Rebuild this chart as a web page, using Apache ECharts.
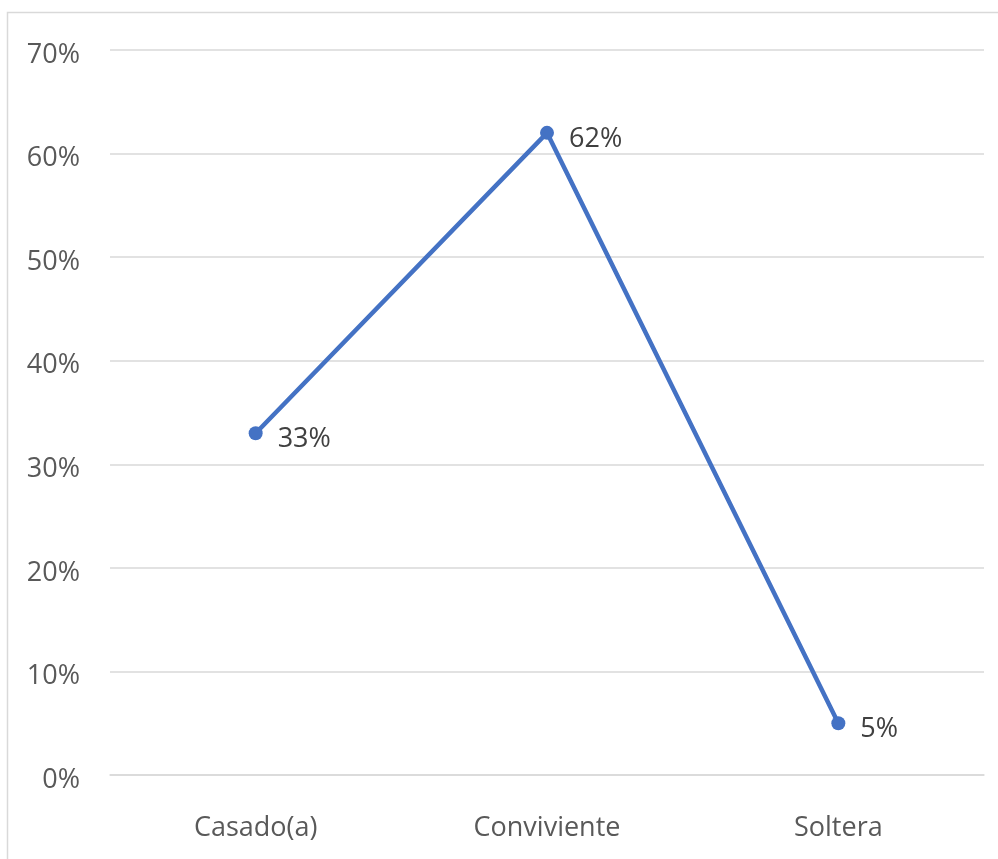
<!DOCTYPE html>
<html>
<head>
<meta charset="utf-8">
<script src="https://cdn.jsdelivr.net/npm/echarts@6/dist/echarts.min.js"></script>
<style>
  html, body { margin: 0; padding: 0; background: #fff; }
  #chart { width: 998px; height: 859px; }
</style>
</head>
<body>
<div id="chart"></div>
<script>
// Estado civil: distribución porcentual
const categories = ['Casado(a)', 'Conviviente', 'Soltera'];
const values = [33, 62, 5];
const yTicks = [0, 10, 20, 30, 40, 50, 60, 70];

const font = '"Open Sans", "Liberation Sans", sans-serif';
const chart = echarts.init(document.getElementById('chart'), null, { renderer: 'canvas' });

chart.setOption({
  backgroundColor: '#ffffff',
  animation: false,
  graphic: [{
    type: 'rect',
    shape: { x: 7.5, y: 12.5, width: 1000, height: 900 },
    style: { fill: 'none', stroke: '#d9d9d9', lineWidth: 1.5 },
    silent: true
  }],
  grid: { left: 110, right: 14, top: 50, bottom: 84, containLabel: false },
  xAxis: {
    type: 'category',
    data: categories,
    boundaryGap: true,
    axisLine: { show: true, lineStyle: { color: '#d9d9d9', width: 1.5 } },
    axisTick: { show: false },
    axisLabel: { color: '#595959', fontSize: 27, fontFamily: font, margin: 40 }
  },
  yAxis: {
    type: 'value',
    min: yTicks[0],
    max: yTicks[yTicks.length - 1],
    interval: 10,
    axisLine: { show: false },
    axisTick: { show: false },
    axisLabel: {
      color: '#595959', fontSize: 27, fontFamily: font, margin: 30,
      formatter: v => '{t|' + v + '%}',
      rich: {
        t: { color: '#595959', fontSize: 27, fontFamily: font, padding: [10, 0, 0, 0] }
      }
    },
    splitLine: { lineStyle: { color: '#d9d9d9', width: 1.5 } }
  },
  series: [{
    type: 'line',
    data: values,
    symbol: 'circle',
    symbolSize: 14,
    itemStyle: { color: '#4472C4' },
    lineStyle: { color: '#4472C4', width: 4.5 },
    label: {
      show: true,
      position: 'right',
      distance: 15,
      offset: [0, 6],
      color: '#404040',
      fontSize: 27,
      fontFamily: font,
      formatter: p => p.value + '%'
    }
  }]
});
</script>
</body>
</html>
